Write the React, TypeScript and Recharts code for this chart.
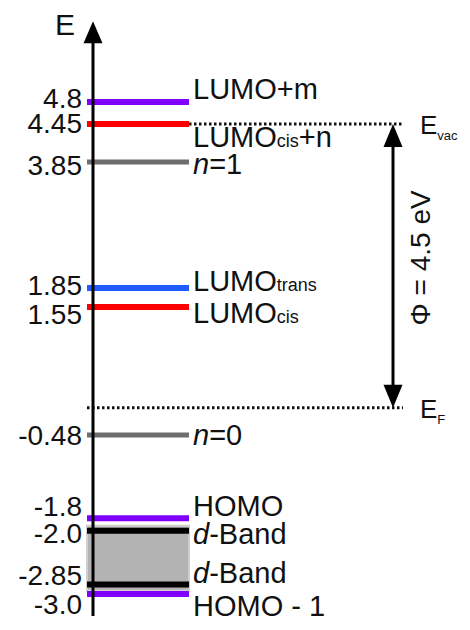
import React from 'react';
import { ComposedChart, XAxis, YAxis, ReferenceLine, ReferenceArea } from 'recharts';

// ---------- data ----------
type Part = { text: string; sub?: boolean; italic?: boolean };

const levelEnergies: number[] = [4.8, 4.45, 3.85, 1.85, 1.55, -0.48, -1.8, -2.0, -2.85, -3.0];
const tickLabels: string[] = ['4.8', '4.45', '3.85', '1.85', '1.55', '-0.48', '-1.8', '-2.0', '-2.85', '-3.0'];
const levelLabelParts: Part[][] = [
  [{ text: 'LUMO+m' }],
  [{ text: 'LUMO' }, { text: 'cis', sub: true }, { text: '+n' }],
  [{ text: 'n', italic: true }, { text: '=1' }],
  [{ text: 'LUMO' }, { text: 'trans', sub: true }],
  [{ text: 'LUMO' }, { text: 'cis', sub: true }],
  [{ text: 'n', italic: true }, { text: '=0' }],
  [{ text: 'HOMO' }],
  [{ text: 'd', italic: true }, { text: '-Band' }],
  [{ text: 'd', italic: true }, { text: '-Band' }],
  [{ text: 'HOMO - 1' }],
];
const E_VAC = 4.45;
const WORK_FUNCTION = 4.5;
const E_F = E_VAC - WORK_FUNCTION;
const dBandRange: [number, number] = [-1.92, -2.95];

// ---------- styles / layout ----------
const FONT = '"Liberation Sans", Arial, Helvetica, sans-serif';
const levelColors = ['#8000ff', '#ff0000', '#6d6d6d', '#1f5cff', '#ff0000', '#6d6d6d', '#8000ff', '#000000', '#000000', '#8000ff'];
const levelWidths = [6, 6, 5, 6, 6, 5, 6, 6, 6, 6];
const labelDy = [-13, 12, 2, -7, 6, 0, -13, 3, -12, 12];
const tickDy = [-4, -1, 3, -3, 7, 0, -12, 2, -10, 10];

const CHART_W = 470;
const CHART_H = 630;
const AXIS_W = 87;
const X_MAX = CHART_W - AXIS_W;
const LEVEL_END = 102;
const AXIS_X = 6;
const DOT_END = 316;
const PHI_X = 306;
const Y_DOMAIN: [number, number] = [-3.35, 6.1];
const AXIS_BOTTOM = -3.35;
const AXIS_TOP = 6.08;

const Tick = (props: any) => {
  const { x, y, payload } = props;
  const i = levelEnergies.indexOf(payload.value);
  const label = i >= 0 ? tickLabels[i] : String(payload.value);
  const dy = i >= 0 ? tickDy[i] : 0;
  return (
    <text x={x} y={y + dy} dy="0.36em" textAnchor="end" fontSize={28} fontFamily={FONT} fill="#111">
      {label}
    </text>
  );
};

const makeLevelShape = (i: number) => (p: any) => {
  const y = p.y1;
  const parts = levelLabelParts[i];
  return (
    <g>
      <line x1={p.x1} x2={p.x2} y1={p.y1} y2={p.y2} stroke={levelColors[i]} strokeWidth={levelWidths[i]} />
      <text x={Math.max(p.x1, p.x2) + 4} y={y + labelDy[i]} dy="0.36em" fontSize={29} fontFamily={FONT} fill="#111">
        {parts.map((pt, k) => (
          <tspan key={k} fontSize={pt.sub ? 18 : undefined} fontStyle={pt.italic ? 'italic' : undefined}>
            {pt.text}
          </tspan>
        ))}
      </text>
    </g>
  );
};

const makeDottedShape = (main: string, sub: string) => (p: any) => {
  const xe = Math.max(p.x1, p.x2);
  return (
    <g>
      <line x1={p.x1} x2={p.x2} y1={p.y1} y2={p.y2} stroke="#111" strokeWidth={3} strokeDasharray="2.5 2.5" />
      <text x={xe + 17} y={p.y1 + 10} fontSize={26} fontFamily={FONT} fill="#111">
        {main}
        <tspan fontSize={13} dy={6}>{sub}</tspan>
      </text>
    </g>
  );
};

const AxisArrow = (p: any) => {
  const x = p.x1;
  const top = Math.min(p.y1, p.y2);
  const bottom = Math.max(p.y1, p.y2);
  const hl = 22;
  const hw = 9.5;
  return (
    <g>
      <line x1={x} x2={x} y1={bottom} y2={top + hl - 2} stroke="#000" strokeWidth={3} />
      <polygon points={`${x},${top} ${x - hw},${top + hl} ${x + hw},${top + hl}`} fill="#000" />
      <text x={x - 38} y={top + 14} fontSize={30} fontFamily={FONT} fill="#111">E</text>
    </g>
  );
};

const PhiArrow = (p: any) => {
  const x = p.x1;
  const top = Math.min(p.y1, p.y2);
  const bottom = Math.max(p.y1, p.y2);
  const hl = 23;
  const hw = 9.5;
  const cx = x + 27;
  const cy = (top + bottom) / 2 - 8;
  return (
    <g>
      <line x1={x} x2={x} y1={top + hl - 2} y2={bottom - hl + 2} stroke="#000" strokeWidth={3} />
      <polygon points={`${x},${top} ${x - hw},${top + hl} ${x + hw},${top + hl}`} fill="#000" />
      <polygon points={`${x},${bottom} ${x - hw},${bottom - hl} ${x + hw},${bottom - hl}`} fill="#000" />
      <text
        x={cx}
        y={cy}
        dy="0.36em"
        textAnchor="middle"
        transform={`rotate(-90 ${cx} ${cy})`}
        fontSize={28}
        fontFamily={FONT}
        fill="#111"
      >
        {`Φ = ${WORK_FUNCTION} eV`}
      </text>
    </g>
  );
};

const levelRows = levelEnergies.map((e, i) => ({ energy: e, label: tickLabels[i] }));

export default function App() {
  return (
    <div style={{ position: 'absolute', left: 0, top: 0, width: CHART_W, height: CHART_H, background: '#fff' }}>
      <ComposedChart
        width={CHART_W}
        height={CHART_H}
        data={levelRows}
        margin={{ top: 20, right: 0, bottom: 14, left: 0 }}
      >
        <XAxis type="number" dataKey="energy" domain={[0, X_MAX]} hide allowDataOverflow />
        <YAxis
          type="number"
          domain={Y_DOMAIN}
          ticks={levelEnergies}
          interval={0}
          width={AXIS_W}
          axisLine={false}
          tickLine={false}
          tickSize={0}
          tickMargin={5}
          tick={<Tick />}
          allowDataOverflow
        />
        <ReferenceArea
          x1={0}
          x2={LEVEL_END}
          y1={dBandRange[0]}
          y2={dBandRange[1]}
          fill="#b3b3b3"
          fillOpacity={1}
          stroke="#cfcfcf"
          strokeWidth={2}
          ifOverflow="visible"
        />
        {levelEnergies.map((e, i) => (
          <ReferenceLine
            key={i}
            segment={[{ x: 0, y: e }, { x: LEVEL_END, y: e }]}
            shape={makeLevelShape(i)}
            ifOverflow="visible"
          />
        ))}
        <ReferenceLine
          segment={[{ x: LEVEL_END, y: E_VAC }, { x: DOT_END, y: E_VAC }]}
          shape={makeDottedShape('E', 'vac')}
          ifOverflow="visible"
        />
        <ReferenceLine
          segment={[{ x: 0, y: E_F }, { x: DOT_END, y: E_F }]}
          shape={makeDottedShape('E', 'F')}
          ifOverflow="visible"
        />
        <ReferenceLine
          segment={[{ x: PHI_X, y: E_F }, { x: PHI_X, y: E_VAC }]}
          shape={PhiArrow}
          ifOverflow="visible"
        />
        <ReferenceLine
          segment={[{ x: AXIS_X, y: AXIS_BOTTOM }, { x: AXIS_X, y: AXIS_TOP }]}
          shape={AxisArrow}
          ifOverflow="visible"
        />
      </ComposedChart>
    </div>
  );
}
